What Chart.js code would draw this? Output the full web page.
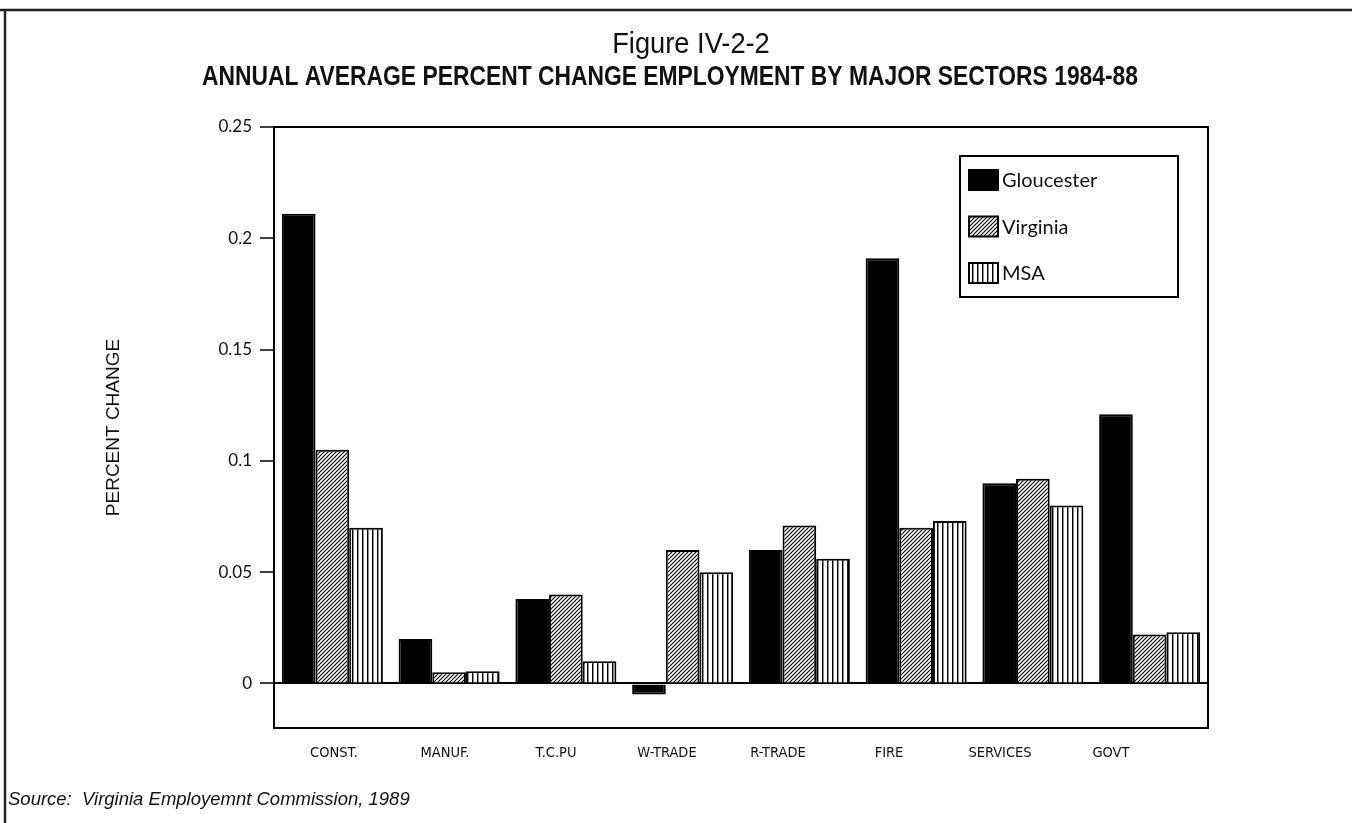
<!DOCTYPE html>
<html>
<head>
<meta charset="utf-8">
<script src="https://cdn.jsdelivr.net/npm/chart.js@4.4.1/dist/chart.umd.min.js"></script>
<style>
  html, body { margin: 0; padding: 0; background: #fff; }
  #wrap { width: 1352px; height: 823px; position: relative; }
</style>
</head>
<body>
<div id="wrap"><canvas id="c" width="1352" height="823"></canvas></div>
<script>
// Sectors and annual average percent change, 1984-88
const sectors = ['CONST.', 'MANUF.', 'T.C.PU', 'W-TRADE', 'R-TRADE', 'FIRE', 'SERVICES', 'GOVT'];
const gloucester = [0.211, 0.020, 0.038, -0.005, 0.060, 0.191, 0.090, 0.121];
const virginia   = [0.105, 0.005, 0.040, 0.060, 0.071, 0.070, 0.092, 0.022];
const msa        = [0.070, 0.0055, 0.010, 0.050, 0.056, 0.073, 0.080, 0.023];
const yTicks = [0, 0.05, 0.1, 0.15, 0.2, 0.25];
const seriesNames = ['Gloucester', 'Virginia', 'MSA'];

const figureNumber = 'Figure IV-2-2';
const chartTitle = 'ANNUAL AVERAGE PERCENT CHANGE EMPLOYMENT BY MAJOR SECTORS 1984-88';
const yTitle = 'PERCENT CHANGE';
const sourceNote = 'Source:  Virginia Employemnt Commission, 1989';

const SANS = "'Liberation Sans', Arial, sans-serif";
const CONDENSED = "'DejaVu Sans Condensed', 'Liberation Sans', sans-serif";
const GOTHIC = "Lato, 'Open Sans', sans-serif";

const canvas = document.getElementById('c');
const ctx = canvas.getContext('2d');

// Diagonal hatch fill
function hatchPattern() {
  const t = document.createElement('canvas');
  t.width = 4; t.height = 4;
  const g = t.getContext('2d');
  g.fillStyle = '#fff'; g.fillRect(0, 0, 4, 4);
  g.strokeStyle = '#000'; g.lineWidth = 1.1;
  [[-1, 5, 5, -1], [-1, 1, 1, -1], [3, 5, 5, 3]].forEach(([a, b, c, d]) => {
    g.beginPath(); g.moveTo(a, b); g.lineTo(c, d); g.stroke();
  });
  return ctx.createPattern(t, 'repeat');
}

// Vertical stripe fill
function stripePattern() {
  const t = document.createElement('canvas');
  t.width = 5; t.height = 4;
  const g = t.getContext('2d');
  g.fillStyle = '#fff'; g.fillRect(0, 0, 5, 4);
  g.fillStyle = '#000'; g.fillRect(2, 0, 1, 4);
  g.fillStyle = 'rgba(0,0,0,0.45)'; g.fillRect(3, 0, 1, 4);
  return ctx.createPattern(t, 'repeat');
}

const fills = ['#000', hatchPattern(), stripePattern()];

// Centered text squeezed horizontally (narrow typeface look)
function narrowText(c, text, cx, cy, font, squeeze) {
  c.save();
  c.font = font;
  c.translate(cx, cy);
  c.scale(squeeze, 1);
  c.fillText(text, 0, 0);
  c.restore();
}

// Page heading, source note and outer rule
const pageText = {
  id: 'pageText',
  afterDraw(chart) {
    const c = chart.ctx;
    c.save();
    c.strokeStyle = '#222';
    c.lineWidth = 2.5;
    c.beginPath();
    c.moveTo(0, 10); c.lineTo(1352, 10);
    c.moveTo(5, 10); c.lineTo(5, 823);
    c.stroke();

    c.fillStyle = '#111';
    c.textAlign = 'center';
    c.textBaseline = 'middle';
    narrowText(c, figureNumber, 691, 45, `29px ${SANS}`, 0.94);
    narrowText(c, chartTitle, 670, 77, `bold 28px ${SANS}`, 0.816);

    c.textAlign = 'left';
    c.font = "italic 18.5px 'Liberation Sans', Arial, sans-serif";
    c.fillText(sourceNote, 8, 800);
    c.restore();
  }
};

// Plot frame around the chart area
const plotFrame = {
  id: 'plotFrame',
  afterDatasetsDraw(chart) {
    const { ctx: c, chartArea: a } = chart;
    c.save();
    c.strokeStyle = '#000';
    c.lineWidth = 2;
    c.strokeRect(a.left, a.top, a.right - a.left, a.bottom - a.top);
    c.restore();
  }
};

// Boxed legend inside the plot
const boxedLegend = {
  id: 'boxedLegend',
  afterDraw(chart, args, opts) {
    const { ctx: c, chartArea: a } = chart;
    const x = a.left + opts.dx, y = a.top + opts.dy;
    c.save();
    c.fillStyle = '#fff';
    c.fillRect(x, y, opts.w, opts.h);
    c.strokeStyle = '#000';
    c.lineWidth = 2;
    c.strokeRect(x, y, opts.w, opts.h);
    c.font = `20px ${GOTHIC}`;
    c.textBaseline = 'middle';
    chart.data.datasets.forEach((ds, i) => {
      const sy = y + opts.first + i * opts.step;
      const sx = x + 9;
      c.fillStyle = ds.backgroundColor;
      c.fillRect(sx, sy, 29, 20);
      c.strokeStyle = '#000';
      c.lineWidth = 2;
      c.strokeRect(sx, sy, 29, 20);
      c.fillStyle = '#111';
      c.fillText(ds.label, sx + 33, sy + 11);
    });
    c.restore();
  }
};

new Chart(canvas, {
  type: 'bar',
  data: {
    labels: sectors,
    datasets: [
      { label: seriesNames[0], data: gloucester, backgroundColor: fills[0], borderColor: '#000', borderWidth: 2, xAxisID: 'x', yAxisID: 'y' },
      { label: seriesNames[1], data: virginia, backgroundColor: fills[1], borderColor: '#000', borderWidth: 2, xAxisID: 'x', yAxisID: 'y' },
      { label: seriesNames[2], data: msa, backgroundColor: fills[2], borderColor: '#000', borderWidth: 2, xAxisID: 'x', yAxisID: 'y' }
    ]
  },
  options: {
    responsive: false,
    animation: false,
    devicePixelRatio: 1,
    layout: { padding: { top: 127, right: 144, bottom: 0, left: 0 } },
    datasets: { bar: { barPercentage: 1, categoryPercentage: 0.865 } },
    plugins: {
      legend: { display: false },
      tooltip: { enabled: false },
      title: { display: false },
      boxedLegend: { dx: 686, dy: 29, w: 218, h: 141, first: 14, step: 46.5 }
    },
    scales: {
      x: { type: 'category', display: false, offset: true },
      // sector names sit on their own evenly spaced label axis
      xl: {
        type: 'linear',
        axis: 'x',
        position: 'bottom',
        offset: false,
        min: -0.5405,
        max: 7.874,
        afterBuildTicks: s => { s.ticks = sectors.map((_, i) => ({ value: i })); },
        afterFit: s => { s.height = 95; s.paddingLeft = 0; s.paddingRight = 0; },
        grid: { display: false, drawTicks: false, offset: false },
        border: { display: false },
        ticks: {
          padding: 17,
          autoSkip: false,
          maxRotation: 0,
          color: '#111',
          font: { family: CONDENSED, size: 14.5 },
          callback: v => sectors[v]
        }
      },
      y: {
        type: 'linear',
        min: -0.02,
        max: 0.25,
        afterBuildTicks: s => { s.ticks = yTicks.map(v => ({ value: v })); },
        afterFit: s => { s.width = 274; s.paddingTop = 0; s.paddingBottom = 0; },
        grid: {
          drawOnChartArea: true,
          color: c => (c.tick && c.tick.value === 0 ? '#000' : 'rgba(0,0,0,0)'),
          lineWidth: 2,
          tickColor: '#000',
          tickWidth: 1.5,
          tickLength: 14
        },
        border: { display: false },
        ticks: {
          padding: 8,
          color: '#111',
          font: { family: GOTHIC, size: 17 },
          callback: v => String(v)
        },
        title: {
          display: true,
          text: yTitle,
          color: '#111',
          font: { family: SANS, size: 19 },
          padding: { top: 102, bottom: 0 }
        }
      }
    }
  },
  plugins: [pageText, plotFrame, boxedLegend]
});
</script>
</body>
</html>
